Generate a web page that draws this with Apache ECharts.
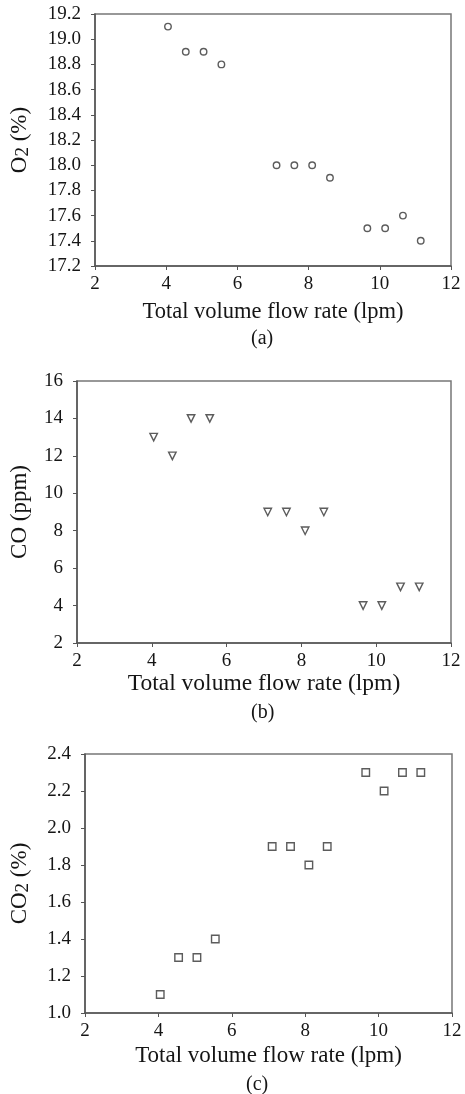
<!DOCTYPE html>
<html>
<head>
<meta charset="utf-8">
<script src="https://cdn.jsdelivr.net/npm/echarts@6/dist/echarts.min.js"></script>
<style>
  html, body { margin: 0; padding: 0; background: #fff; }
  #main { width: 465px; height: 1094px; }
</style>
</head>
<body>
<div id="main"></div>
<script>
// 数据
var flowRate = [4.05, 4.55, 5.05, 5.55, 7.1, 7.6, 8.1, 8.6, 9.65, 10.15, 10.65, 11.15];
var o2 = [19.1, 18.9, 18.9, 18.8, 18.0, 18.0, 18.0, 17.9, 17.5, 17.5, 17.6, 17.4];
var co = [13, 12, 14, 14, 9, 9, 8, 9, 4, 4, 5, 5];
var co2 = [1.1, 1.3, 1.3, 1.4, 1.9, 1.9, 1.8, 1.9, 2.3, 2.2, 2.3, 2.3];
var xTitle = 'Total volume flow rate (lpm)';
var captions = ['(a)', '(b)', '(c)'];

function pairs(ys) {
    return flowRate.map(function (x, i) { return [x, ys[i]]; });
}

var FONT = '"Liberation Serif", "DejaVu Serif", serif';
var axisColor = '#555';
var textColor = '#151515';

function xAxis(idx, gap, size) {
    return {
        gridIndex: idx,
        type: 'value',
        min: 2, max: 12, interval: 2,
        name: xTitle,
        nameLocation: 'middle',
        nameGap: gap,
        nameTextStyle: { fontFamily: FONT, fontSize: size, color: textColor },
        axisLine: { show: true, lineStyle: { color: axisColor, width: 1.5 } },
        axisTick: { show: true, length: 4, lineStyle: { color: axisColor } },
        axisLabel: { fontFamily: FONT, fontSize: 19, color: textColor, margin: 9 },
        splitLine: { show: false }
    };
}

function yAxis(idx, min, max, interval, digits, name, gap) {
    return {
        gridIndex: idx,
        type: 'value',
        min: min, max: max, interval: interval,
        name: name,
        nameLocation: 'middle',
        nameRotate: 90,
        nameGap: gap,
        nameTextStyle: {
            fontFamily: FONT, fontSize: 23, color: textColor,
            rich: {
                a: { fontFamily: FONT, fontSize: 23, color: textColor },
                s: { fontFamily: FONT, fontSize: 19, color: textColor, padding: [8, 0, 0, 0] }
            }
        },
        axisLine: { show: true, lineStyle: { color: axisColor, width: 1.5 } },
        axisTick: { show: true, length: 4, lineStyle: { color: axisColor } },
        axisLabel: {
            fontFamily: FONT, fontSize: 19, color: textColor, margin: 14,
            formatter: function (v) { return v.toFixed(digits); }
        },
        splitLine: { show: false }
    };
}

var markStyle = { color: '#fff', borderColor: '#333', borderWidth: 1.4 };
var capStyle = { fontFamily: FONT, fontSize: 20, fontWeight: 'normal', color: textColor };

var chart = echarts.init(document.getElementById('main'));
var option = {
    backgroundColor: '#fff',
    animation: false,
    title: [
        { text: captions[0], left: 246, top: 324, textStyle: capStyle },
        { text: captions[1], left: 246, top: 698, textStyle: capStyle },
        { text: captions[2], left: 241, top: 1070, textStyle: capStyle }
    ],
    grid: [
        { left: 90, top: 14, width: 361, height: 252, show: true, borderColor: '#777', borderWidth: 1.5 },
        { left: 77, top: 381, width: 374, height: 262, show: true, borderColor: '#777', borderWidth: 1.5 },
        { left: 83, top: 754, width: 369, height: 259, show: true, borderColor: '#777', borderWidth: 1.5 }
    ],
    xAxis: [xAxis(0, 35, 22.5), xAxis(1, 29, 23.5), xAxis(2, 31, 23)],
    yAxis: [
        yAxis(0, 17.2, 19.2, 0.2, 1, '{a|O}{s|2}{a| (%)}', 62),
        yAxis(1, 2, 16, 2, 0, 'CO (ppm)', 46),
        yAxis(2, 1.0, 2.4, 0.2, 1, '{a|CO}{s|2}{a| (%)}', 52)
    ],
    series: [
        {
            type: 'scatter', xAxisIndex: 0, yAxisIndex: 0,
            symbol: 'circle', symbolSize: 6.5,
            itemStyle: markStyle,
            data: pairs(o2)
        },
        {
            type: 'scatter', xAxisIndex: 1, yAxisIndex: 1,
            symbol: 'triangle', symbolRotate: 180, symbolSize: 7.5,
            itemStyle: markStyle,
            data: pairs(co)
        },
        {
            type: 'scatter', xAxisIndex: 2, yAxisIndex: 2,
            symbol: 'rect', symbolSize: 7.5,
            itemStyle: markStyle,
            data: pairs(co2)
        }
    ]
};
chart.setOption(option);
</script>
</body>
</html>
